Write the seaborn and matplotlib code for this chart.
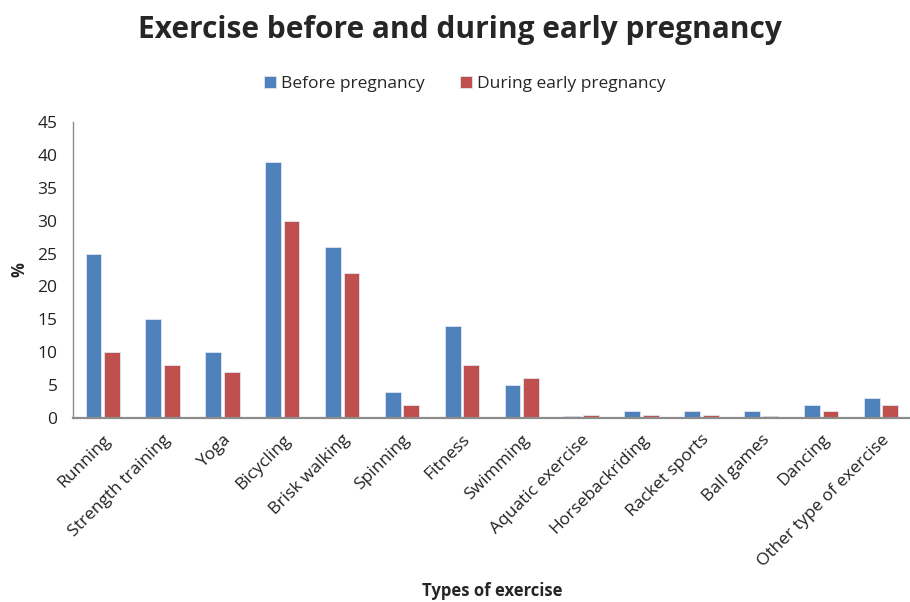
import matplotlib
matplotlib.use("Agg")
import matplotlib.pyplot as plt
import seaborn as sns
import pandas as pd

categories = ["Running", "Strength training", "Yoga", "Bicycling", "Brisk walking",
              "Spinning", "Fitness", "Swimming", "Aquatic exercise", "Horsebackriding",
              "Racket sports", "Ball games", "Dancing", "Other type of exercise"]
before = [25, 15, 10, 39, 26, 4, 14, 5, 0.3, 1, 1, 1, 2, 3]
during = [10, 8, 7, 30, 22, 2, 8, 6, 0.5, 0.4, 0.5, 0.2, 1, 2]
series = ["Before pregnancy", "During early pregnancy"]
y_ticks = [0, 5, 10, 15, 20, 25, 30, 35, 40, 45]

df = pd.DataFrame({
    "Types of exercise": categories * 2,
    "value": before + during,
    "series": [series[0]] * len(categories) + [series[1]] * len(categories),
})

sns.set_theme(style="white")
plt.rcParams["font.family"] = ["Open Sans", "DejaVu Sans"]

fig = plt.figure(figsize=(9.1, 6.02), dpi=100)
ax = fig.add_axes([0.080, 0.306, 0.921, 0.491])

sns.barplot(data=df, x="Types of exercise", y="value", hue="series",
            palette=["#4F81BD", "#C0504D"], saturation=1, width=0.62, gap=0.15,
            edgecolor="#dfe6f0", linewidth=0.6, ax=ax, legend=True)

ax.set_ylim(0, 45)
ax.set_yticks(y_ticks)
ax.set_yticklabels([str(t) for t in y_ticks], fontsize=12.5, color="#222222")
ax.set_xlim(-0.5, len(categories) - 0.5)
ax.tick_params(axis="y", length=0, pad=11)
for lbl in ax.get_xticklabels():
    lbl.set_rotation(45)
    lbl.set_ha("right")
    lbl.set_va("top")
    lbl.set_rotation_mode("anchor")
    lbl.set_fontsize(12.5)
    lbl.set_color("#222222")
ax.tick_params(axis="x", length=0, pad=10)

for side in ["top", "right"]:
    ax.spines[side].set_visible(False)
for side in ["left", "bottom"]:
    ax.spines[side].set_color("#8c8c8c")
    ax.spines[side].set_linewidth(1.6 if side == "bottom" else 1.0)

ax.set_xlabel("Types of exercise", fontsize=12, fontweight="bold")
ax.xaxis.set_label_coords(0.50, -0.555)
ax.set_ylabel("%", fontsize=12, fontweight="bold")
ax.yaxis.set_label_coords(-0.053, 0.5)

ax.legend(loc="center", bbox_to_anchor=(0.468, 1.13), ncol=2, frameon=False,
          fontsize=12.5, handlelength=0.7, handleheight=0.7, handletextpad=0.3,
          columnspacing=2.0)

fig.text(0.505, 0.95, "Exercise before and during early pregnancy", ha="center",
         va="center", fontsize=21.5, fontweight="bold")

fig.savefig("out.png", dpi=100)
